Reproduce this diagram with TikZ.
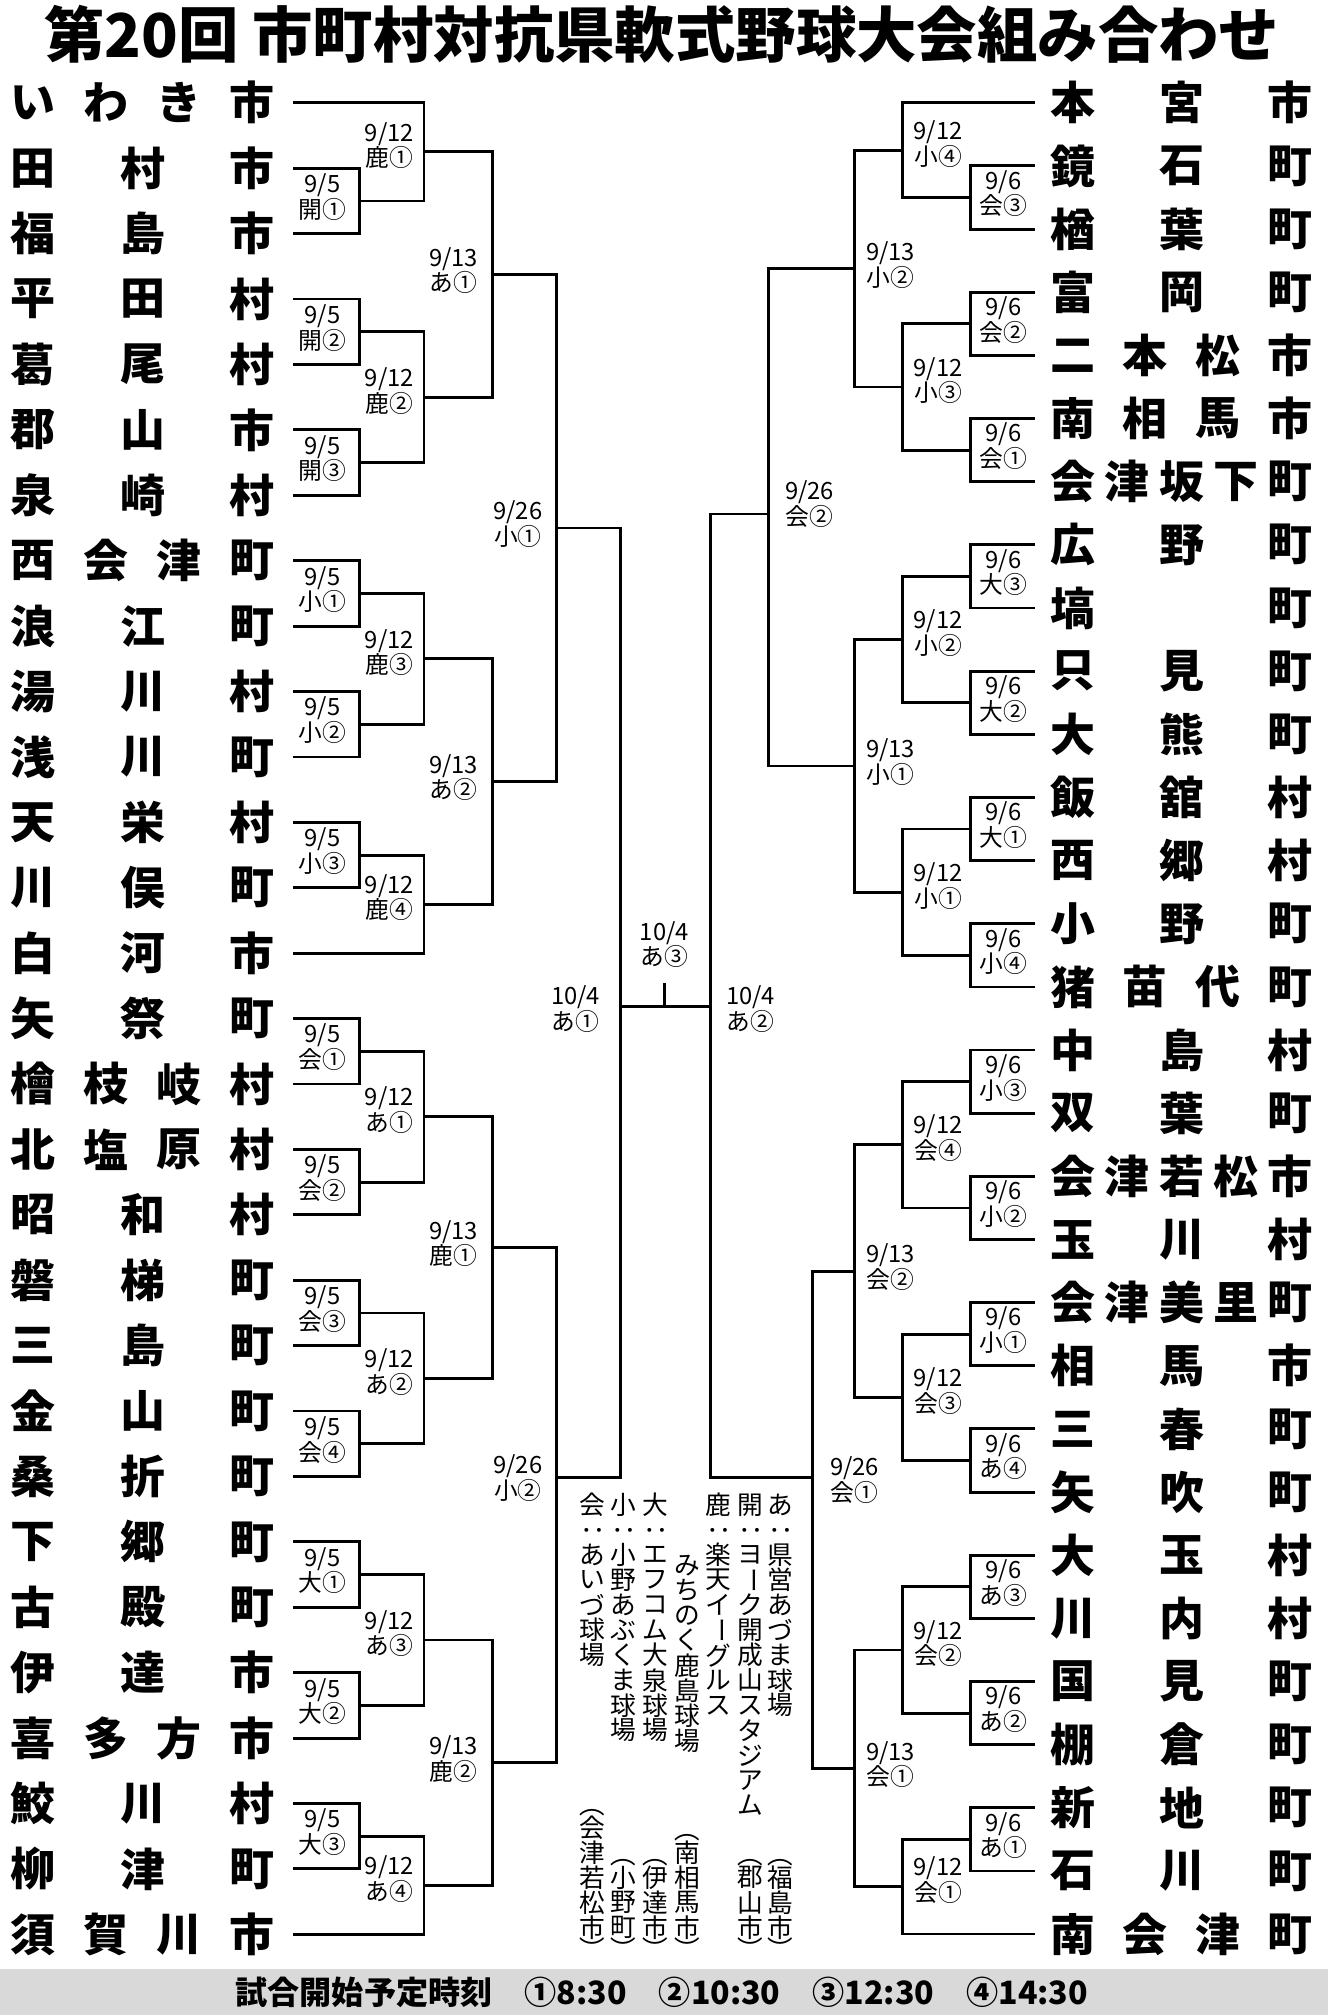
\documentclass[tikz,border=0pt]{standalone}
\usepackage{fontspec}
\setmainfont{Noto Sans CJK JP}
\tikzset{
 ln/.style={line width=2.2pt},
 tm/.style={inner sep=0pt,font=\fontsize{35}{35}\selectfont\bfseries},
 lb/.style={inner sep=0pt,align=center,font=\fontsize{18.5}{20}\selectfont},
 lg/.style={inner sep=0pt,font=\fontsize{20}{20}\selectfont},
}
\newcommand\R[1]{\rotatebox{-90}{#1}}
\newcommand\team[5]{\foreach \c [count=\k] in #5 \node[tm] at ({#1+(#2-#1)*(\k-1)/(#4-1)},{#3}) {\c};}
\newcommand\brk[5]{\draw[ln] (#2,#3) -| (#1,#5) -- (#4,#5);}
\newcommand\vcol[3]{\foreach \c [count=\k] in {#3} \node[lg] at (#1,{#2+19.5*(\k-1)}) {\c};}
\newcommand\vpar[3]{\foreach \c [count=\k] in {#3} \node[lg] at (#1,{1500-19.5*(#2-\k)}) {\c};
 \node[lg] at (#1,{1500-19.5*(#2-1)-18}) {\R{（}}; \node[lg] at (#1,1517) {\R{）}};}
\begin{document}
\begin{tikzpicture}[x=1pt,y=-1pt]
\useasboundingbox (0,0) rectangle (1033,1568);
\node[inner sep=0pt,font=\fontsize{47}{47}\selectfont\bfseries] (title) at (515,27) {第20回 市町村対抗県軟式野球大会組み合わせ};
% left teams
\foreach \nm [count=\r] in {{い,わ,き,市},{田,村,市},{福,島,市},{平,田,村},{葛,尾,村},{郡,山,市},{泉,崎,村},{西,会,津,町},{浪,江,町},{湯,川,村},{浅,川,町},{天,栄,村},{川,俣,町},{白,河,市},{矢,祭,町},{檜,枝,岐,村},{北,塩,原,村},{昭,和,村},{磐,梯,町},{三,島,町},{金,山,町},{桑,折,町},{下,郷,町},{古,殿,町},{伊,達,市},{喜,多,方,市},{鮫,川,村},{柳,津,町},{須,賀,川,市}}{
 \gdef\n{0}\foreach \c in \nm {\xdef\n{\the\numexpr\n+1\relax}}
 \team{26}{196}{80+50.9*(\r-1)}{\n}{\nm}}
% right teams
\foreach \nm [count=\r] in {{本,宮,市},{鏡,石,町},{楢,葉,町},{富,岡,町},{二,本,松,市},{南,相,馬,市},{会,津,坂,下,町},{広,野,町},{塙,町},{只,見,町},{大,熊,町},{飯,舘,村},{西,郷,村},{小,野,町},{猪,苗,代,町},{中,島,村},{双,葉,町},{会,津,若,松,市},{玉,川,村},{会,津,美,里,町},{相,馬,市},{三,春,町},{矢,吹,町},{大,玉,村},{川,内,村},{国,見,町},{棚,倉,町},{新,地,町},{石,川,町},{南,会,津,町}}{
 \gdef\n{0}\foreach \c in \nm {\xdef\n{\the\numexpr\n+1\relax}}
 \team{835}{1004}{80+49.14*(\r-1)}{\n}{\nm}}
% left brackets 9/5
\foreach \a/\b/\t in {130.9/181.8/開①,232.7/283.6/開②,334.5/385.4/開③,436.3/487.2/小①,538.1/589/小②,639.9/690.8/小③,792.6/843.5/会①,894.4/945.3/会②,996.2/1047.1/会③,1098/1148.9/会④,1199.8/1250.7/大①,1301.6/1352.5/大②,1403.4/1454.3/大③}{
 \brk{280}{228}{\a}{228}{\b}
 \node[lb] at (251,{(\a+\b)/2-3}) {9/5\\\t};}
% left 9/12
\foreach \xa/\a/\xb/\b/\t in {228/80/280/156.4/鹿①,280/258.2/280/360/鹿②,280/461.8/280/563.6/鹿③,280/665.4/228/741.7/鹿④,280/818/280/919.9/あ①,280/1021.7/280/1123.5/あ②,280/1225.3/280/1327.1/あ③,280/1428.9/228/1505.2/あ④}{
 \brk{330}{\xa}{\a}{\xb}{\b}
 \node[lb] at (303,{(\a+\b)/2-5}) {9/12\\\t};}
% left 9/13
\foreach \a/\b/\t in {118.2/309.1/あ①,512.7/703.6/あ②,869/1072.6/鹿①,1276.2/1467/鹿②}{
 \brk{383}{330}{\a}{330}{\b}
 \node[lb] at (353,{(\a+\b)/2-3}) {9/13\\\t};}
% left 9/26
\brk{433}{383}{213.6}{383}{608.2}
\node[lb] at (403,408) {9/26\\小①};
\draw[ln] (383,970.8) -| (433,1371.6) -- (383,1371.6);
\node[lb] at (403,1150) {9/26\\小②};
% final
\draw[ln] (433,410.9) -| (483,1150) -- (433,1150);
\draw[ln] (483,783) -- (553,783);
\draw[ln] (517,783) -- (517,765);
\draw[ln] (598,400) -| (553,1150) -- (632,1150);
\node[lb] at (448,785) {10/4\\あ①};
\node[lb] at (517,735) {10/4\\あ③};
\node[lb] at (584,785) {10/4\\あ②};
% right 9/6
\foreach \a/\b/\t in {129.1/178.3/会③,227.4/276.6/会②,325.7/374.8/会①,424/473.1/大③,522.3/571.4/大②,620.5/669.7/大①,718.8/768/小④,817.1/866.2/小③,915.4/964.5/小②,1013.7/1062.8/小①,1111.9/1161.1/あ④,1210.2/1259.4/あ③,1308.5/1357.6/あ②,1406.8/1455.9/あ①}{
 \brk{755}{805}{\a}{805}{\b}
 \node[lb] at (781,{(\a+\b)/2-3}) {9/6\\\t};}
% right 9/12
\foreach \xa/\a/\xb/\b/\t in {805/80/755/153.7/小④,755/252/755/350.3/小③,755/448.6/755/546.9/小②,755/645.1/755/743.4/小①,755/841.7/755/940/会④,755/1038.3/755/1136.5/会③,755/1234.8/755/1333.1/会②,755/1431.4/805/1505/会①}{
 \brk{702}{\xa}{\a}{\xb}{\b}
 \node[lb] at (730,{(\a+\b)/2-5}) {9/12\\\t};}
% right 9/13
\foreach \a/\b/\t in {116.9/301.2/小②,497.8/694.3/小①,890.9/1087.4/会②,1284/1468.2/会①}{
 \brk{665}{702}{\a}{702}{\b}
 \node[lb] at (693,{(\a+\b)/2-3}) {9/13\\\t};}
\brk{598}{665}{209}{665}{596}
\node[lb] at (630,392) {9/26\\会②};
\brk{632}{665}{989.2}{665}{1376.1}
\node[lb] at (665,1152) {9/26\\会①};
% legend
\vcol{607}{1171}{あ,\R{：},県,営,あ,づ,ま,球,場}
\vpar{607}{3}{福,島,市}
\vcol{584}{1171}{開,\R{：},ヨ,\R{ー},ク,開,成,山,ス,タ,ジ,ア,ム}
\vpar{584}{3}{郡,山,市}
\vcol{559}{1171}{鹿,\R{：},楽,天,イ,\R{ー},グ,ル,ス}
\vcol{535}{1218}{み,ち,の,く,鹿,島,球,場}
\vpar{535}{4}{南,相,馬,市}
\vcol{510}{1171}{大,\R{：},エ,フ,コ,ム,大,泉,球,場}
\vpar{510}{3}{伊,達,市}
\vcol{485}{1171}{小,\R{：},小,野,あ,ぶ,く,ま,球,場}
\vpar{485}{3}{小,野,町}
\vcol{461}{1171}{会,\R{：},あ,い,づ,球,場}
\vpar{461}{5}{会,津,若,松,市}
% footer
\fill[gray!30] (0,1532) rectangle (1033,1568);
\node[inner sep=0pt,font=\fontsize{25}{25}\selectfont\bfseries] (foot) at (515,1550) {試合開始予定時刻\quad ①8:30\quad ②10:30\quad ③12:30\quad ④14:30};
\end{tikzpicture}
\end{document}
